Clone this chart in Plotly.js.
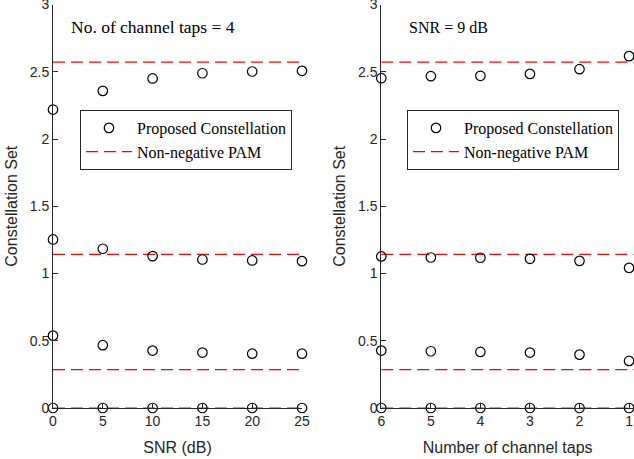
<!DOCTYPE html>
<html>
<head>
<meta charset="utf-8">
<script src="https://cdn.plot.ly/plotly-3.0.1.min.js"></script>
<style>html,body{margin:0;padding:0;background:#fff;}#plot{width:634px;height:459px;}</style>
</head>
<body>
<div id="plot"></div>
<script>
// ---- data ----
const snr = [0, 5, 10, 15, 20, 25];
const taps = [6, 5, 4, 3, 2, 1];
const pamLevels = [0, 0.2857, 1.1429, 2.5714];

const snrLevel1 = [0, 0, 0, 0, 0, 0];
const snrLevel2 = [0.538, 0.467, 0.427, 0.412, 0.404, 0.404];
const snrLevel3 = [1.253, 1.184, 1.129, 1.104, 1.097, 1.092];
const snrLevel4 = [2.219, 2.358, 2.450, 2.489, 2.502, 2.507];

const tapsLevel1 = [0, 0, 0, 0, 0, 0];
const tapsLevel2 = [0.427, 0.422, 0.417, 0.412, 0.397, 0.350];
const tapsLevel3 = [1.127, 1.119, 1.117, 1.109, 1.094, 1.042];
const tapsLevel4 = [2.452, 2.467, 2.470, 2.484, 2.519, 2.616];

const yTicks = [0, 0.5, 1, 1.5, 2, 2.5, 3];
const yTickText = ['0', '0.5', '1', '1.5', '2', '2.5', '3'];

// ---- helpers ----
function flatPoints(xs, levels) {
  const x = [], y = [];
  levels.forEach(l => { l.forEach((v, i) => { x.push(xs[i]); y.push(v); }); });
  return {x, y};
}
function pamLines(x0, x1) {
  const x = [], y = [];
  pamLevels.forEach(v => { x.push(x0, x1, null); y.push(v, v, null); });
  return {x, y};
}

const leftPts = flatPoints(snr, [snrLevel1, snrLevel2, snrLevel3, snrLevel4]);
const rightPts = flatPoints(taps, [tapsLevel1, tapsLevel2, tapsLevel3, tapsLevel4]);
const rightRange = [6, 0.9];
const leftPam = pamLines(snr[0], snr[snr.length - 1]);
const rightPam = pamLines(rightRange[0], rightRange[1]);

const markerStyle = {symbol: 'circle-open', size: 9.5, color: '#000', line: {width: 1.2, color: '#000'}};
const lineStyle = {color: '#ff0000', width: 1.2, dash: '12px,6px'};

const traces = [
  {x: leftPam.x, y: leftPam.y, mode: 'lines', line: lineStyle, name: 'Non-negative PAM', xaxis: 'x', yaxis: 'y', legend: 'legend', legendrank: 2, hoverinfo: 'skip'},
  {x: leftPts.x, y: leftPts.y, mode: 'markers', marker: markerStyle, name: 'Proposed Constellation', xaxis: 'x', yaxis: 'y', cliponaxis: false, legend: 'legend', legendrank: 1},
  {x: rightPam.x, y: rightPam.y, mode: 'lines', line: lineStyle, name: 'Non-negative PAM', xaxis: 'x2', yaxis: 'y2', legend: 'legend2', legendrank: 2, hoverinfo: 'skip'},
  {x: rightPts.x, y: rightPts.y, mode: 'markers', marker: markerStyle, name: 'Proposed Constellation', xaxis: 'x2', yaxis: 'y2', cliponaxis: false, legend: 'legend2', legendrank: 1}
];

const W = 634, H = 459;
const tickFont = {family: 'Liberation Sans, Arial, sans-serif', size: 14, color: '#262626'};
const titleFont = {family: 'Liberation Sans, Arial, sans-serif', size: 16, color: '#262626'};
const serif = {family: 'Liberation Serif, Times New Roman, serif', size: 16, color: '#000'};
const serifTaps = {family: 'Liberation Serif, Times New Roman, serif', size: 17.5, color: '#000'};

function axisBase() {
  return {showline: true, linecolor: '#262626', linewidth: 1, ticks: 'inside', ticklen: 5,
          tickcolor: '#262626', tickwidth: 1, showgrid: false, zeroline: false, tickfont: tickFont,
          automargin: false, fixedrange: true, ticklabeloverflow: 'allow'};
}
const yDomain = [(H - 408) / H, (H - 4.5) / H];

function legendAt(px) {
  return {x: px / W, y: (H - 110) / H, xanchor: 'left', yanchor: 'top', bgcolor: '#fff',
    bordercolor: '#262626', borderwidth: 1, font: serif, tracegroupgap: 0, itemwidth: 46};
}

const layout = {
  width: W, height: H,
  margin: {l: 0, r: 0, t: 0, b: 0},
  paper_bgcolor: '#fff', plot_bgcolor: '#fff',
  showlegend: true,
  xaxis: Object.assign(axisBase(), {domain: [53 / W, 302 / W], range: [0, 25], tickvals: snr, anchor: 'y',
    title: {text: 'SNR (dB)', font: titleFont, standoff: 14}}),
  yaxis: Object.assign(axisBase(), {domain: yDomain, range: [0, 3], tickvals: yTicks, ticktext: yTickText, anchor: 'x',
    title: {text: 'Constellation Set', font: titleFont, standoff: 8}}),
  xaxis2: Object.assign(axisBase(), {domain: [381.3 / W, 1], range: rightRange, tickvals: taps, anchor: 'y2',
    title: {text: 'Number of channel taps', font: titleFont, standoff: 14}}),
  yaxis2: Object.assign(axisBase(), {domain: yDomain, range: [0, 3], tickvals: yTicks, ticktext: yTickText, anchor: 'x2',
    title: {text: 'Constellation Set', font: titleFont, standoff: 8}}),
  legend: legendAt(80),
  legend2: legendAt(407),
  annotations: [
    {text: 'No. of channel taps = 4', xref: 'paper', yref: 'paper', x: 69 / W, y: (H - 27) / H,
     xanchor: 'left', yanchor: 'middle', showarrow: false, font: serifTaps},
    {text: 'SNR = 9 dB', xref: 'paper', yref: 'paper', x: 407 / W, y: (H - 27) / H,
     xanchor: 'left', yanchor: 'middle', showarrow: false, font: serif}
  ]
};

Plotly.newPlot('plot', traces, layout, {staticPlot: true, displayModeBar: false});
</script>
</body>
</html>
